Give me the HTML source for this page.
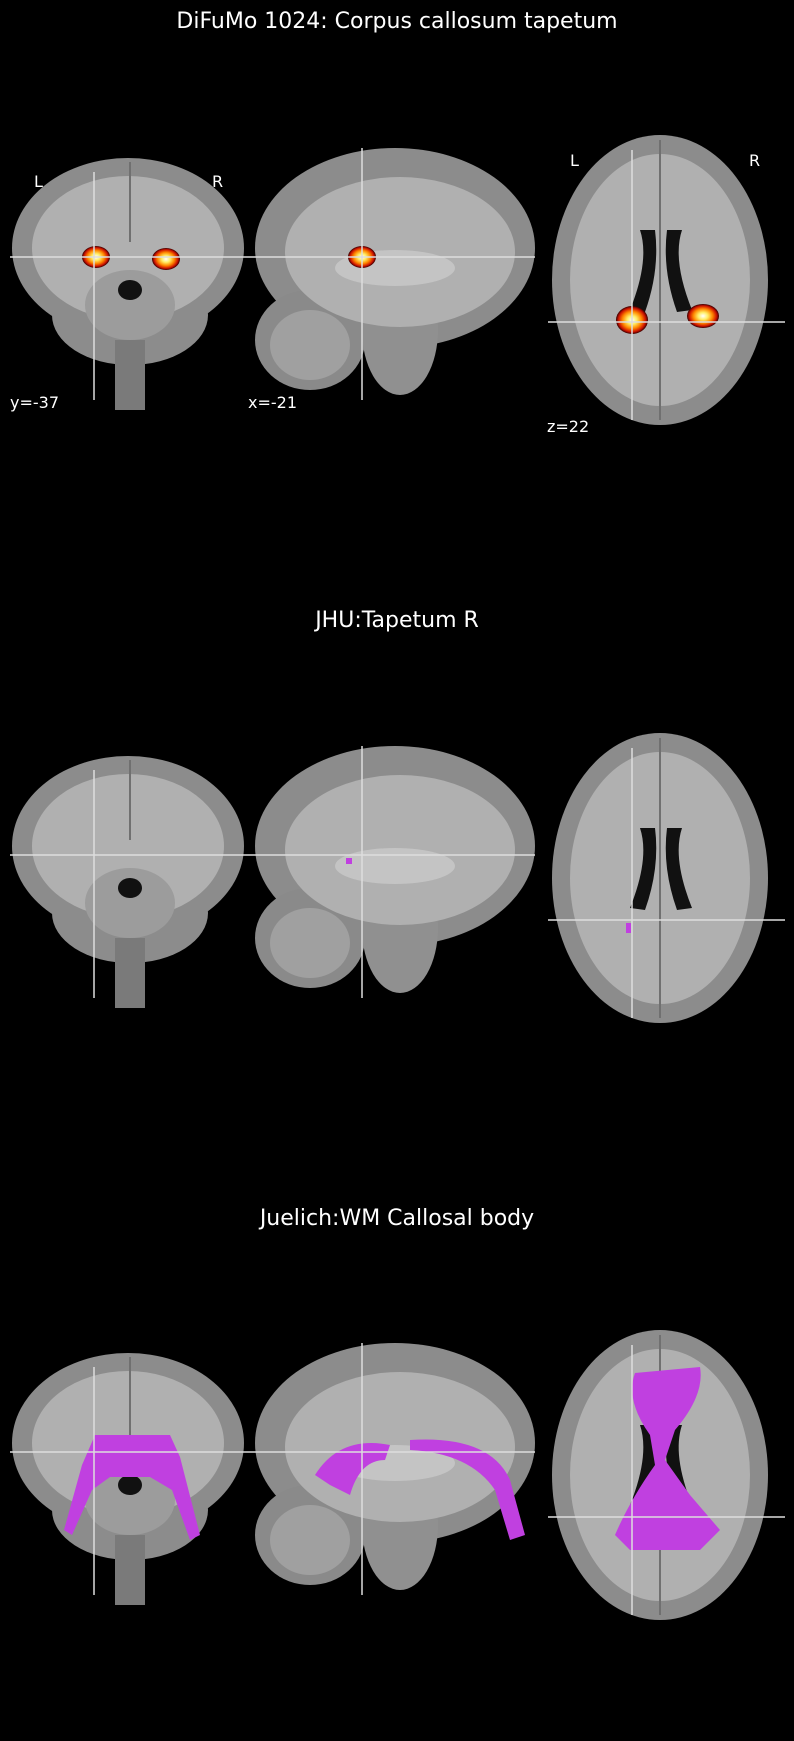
<!DOCTYPE html>
<html><head><meta charset="utf-8"><style>
html,body{margin:0;padding:0;background:#000;}
svg{display:block;}
text{font-family:"DejaVu Sans","Liberation Sans",sans-serif;fill:#fff;}
</style></head><body>
<svg width="794" height="1741" viewBox="0 0 794 1741">
<defs>
<radialGradient id="hot" cx="50%" cy="50%" r="50%">
<stop offset="0%" stop-color="#ffffff"/><stop offset="30%" stop-color="#ffee66"/>
<stop offset="60%" stop-color="#ff8800"/><stop offset="85%" stop-color="#cc1100"/><stop offset="100%" stop-color="#330000"/>
</radialGradient>
<g id="coronal">
<ellipse cx="128" cy="248" rx="116" ry="90" fill="#8c8c8c"/>
<ellipse cx="130" cy="315" rx="78" ry="50" fill="#8c8c8c"/>
<rect x="115" y="340" width="30" height="70" fill="#7a7a7a"/>
<ellipse cx="128" cy="248" rx="96" ry="72" fill="#b0b0b0"/>
<ellipse cx="130" cy="305" rx="45" ry="35" fill="#9c9c9c"/>
<ellipse cx="130" cy="290" rx="12" ry="10" fill="#111"/>
<rect x="129" y="162" width="2" height="80" fill="#707070"/>
</g>
<g id="sagittal">
<ellipse cx="395" cy="248" rx="140" ry="100" fill="#8c8c8c"/>
<ellipse cx="310" cy="340" rx="55" ry="50" fill="#8a8a8a"/>
<ellipse cx="400" cy="330" rx="38" ry="65" fill="#909090"/>
<ellipse cx="400" cy="252" rx="115" ry="75" fill="#b0b0b0"/>
<ellipse cx="395" cy="268" rx="60" ry="18" fill="#c4c4c4"/>
<ellipse cx="310" cy="345" rx="40" ry="35" fill="#a0a0a0"/>
</g>
<g id="axial">
<ellipse cx="660" cy="280" rx="108" ry="145" fill="#8c8c8c"/>
<ellipse cx="660" cy="280" rx="90" ry="126" fill="#b0b0b0"/>
<rect x="659" y="140" width="2" height="280" fill="#707070"/>
<path d="M640 230 Q650 260 630 310 L645 312 Q660 270 655 230 Z" fill="#111"/>
<path d="M682 230 Q672 260 692 310 L677 312 Q662 270 667 230 Z" fill="#111"/>
</g>
</defs>

<text x="397" y="28" font-size="22" text-anchor="middle">DiFuMo 1024: Corpus callosum tapetum</text>
<g>
<use href="#coronal"/><use href="#sagittal"/><use href="#axial"/>
<ellipse cx="96" cy="257" rx="14" ry="11" fill="url(#hot)"/>
<ellipse cx="166" cy="259" rx="14" ry="11" fill="url(#hot)"/>
<ellipse cx="362" cy="257" rx="14" ry="11" fill="url(#hot)"/>
<ellipse cx="632" cy="320" rx="16" ry="14" fill="url(#hot)"/>
<ellipse cx="703" cy="316" rx="16" ry="12" fill="url(#hot)"/>
<g stroke="#ddd" stroke-width="1.5">
<line x1="10" y1="257" x2="535" y2="257"/><line x1="94" y1="172" x2="94" y2="400"/>
<line x1="362" y1="148" x2="362" y2="400"/><line x1="548" y1="322" x2="785" y2="322"/>
<line x1="632" y1="150" x2="632" y2="420"/></g>
<text x="34" y="187" font-size="16">L</text>
<text x="212" y="187" font-size="16">R</text>
<text x="10" y="408" font-size="16">y=-37</text>
<text x="248" y="408" font-size="16">x=-21</text>
<text x="570" y="166" font-size="16">L</text>
<text x="749" y="166" font-size="16">R</text>
<text x="547" y="432" font-size="16">z=22</text>
</g>

<text x="397" y="627" font-size="22" text-anchor="middle">JHU:Tapetum R</text>
<g transform="translate(0,598)">
<use href="#coronal"/><use href="#sagittal"/><use href="#axial"/>
<rect x="346" y="260" width="6" height="6" fill="#c040e0"/>
<rect x="626" y="325" width="5" height="10" fill="#c040e0"/>
<g stroke="#ddd" stroke-width="1.5"><line x1="10" y1="257" x2="535" y2="257"/><line x1="94" y1="172" x2="94" y2="400"/>
<line x1="362" y1="148" x2="362" y2="400"/><line x1="548" y1="322" x2="785" y2="322"/><line x1="632" y1="150" x2="632" y2="420"/></g>
</g>

<text x="397" y="1225" font-size="22" text-anchor="middle">Juelich:WM Callosal body</text>
<g transform="translate(0,1195)">
<use href="#coronal"/><use href="#sagittal"/><use href="#axial"/>
<g fill="#c040e0">
<path d="M95 240 L170 240 L180 262 L200 340 L190 345 L172 295 L150 282 L110 282 L92 295 L72 340 L64 335 L82 270 Z"/>
<path d="M315 280 Q340 240 390 250 L385 265 Q360 265 350 300 L330 290 Z"/>
<path d="M410 245 Q490 240 510 285 L525 340 L510 345 L495 295 Q470 258 410 255 Z"/>
<path d="M635 178 L700 172 Q705 200 675 235 L665 265 L690 300 L720 335 L700 355 L630 355 L615 340 Q630 305 655 270 L650 240 Q625 205 635 178 Z"/>
</g>
<g stroke="#ddd" stroke-width="1.5"><line x1="10" y1="257" x2="535" y2="257"/><line x1="94" y1="172" x2="94" y2="400"/>
<line x1="362" y1="148" x2="362" y2="400"/><line x1="548" y1="322" x2="785" y2="322"/><line x1="632" y1="150" x2="632" y2="420"/></g>
</g>
</svg>
</body></html>
